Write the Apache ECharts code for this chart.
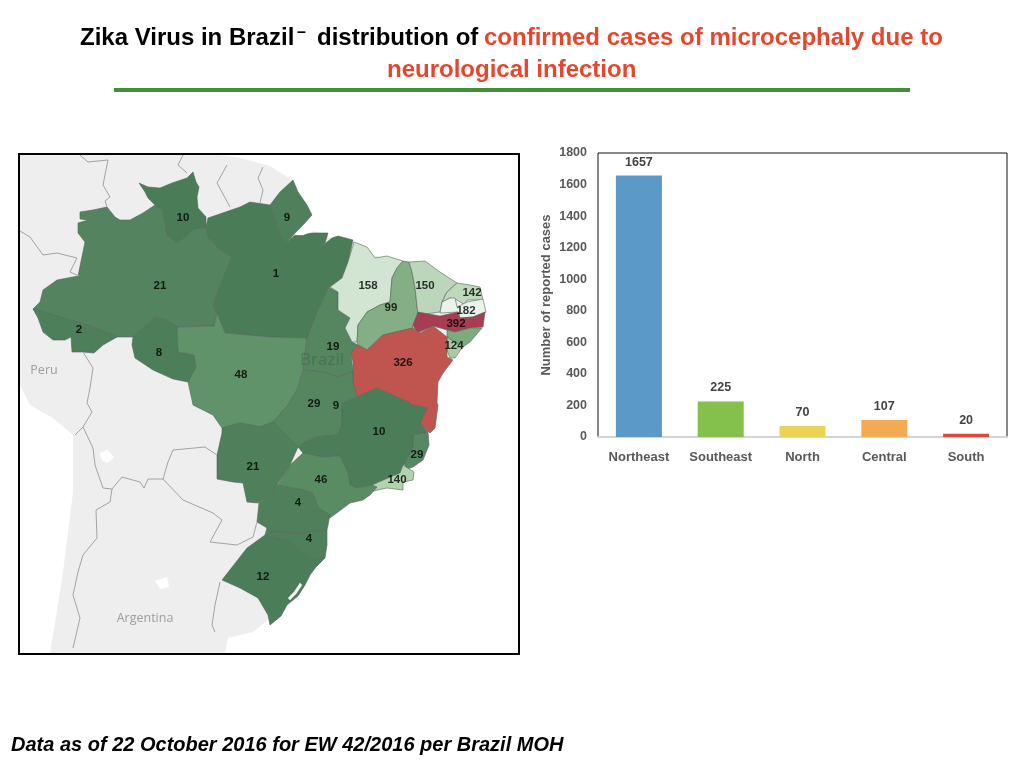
<!DOCTYPE html>
<html><head><meta charset="utf-8">
<style>html,body{margin:0;padding:0;background:#fff}#c{width:1024px;height:768px}</style>
<script src="https://cdn.jsdelivr.net/npm/echarts@6/dist/echarts.min.js"></script>
</head><body><div id="c"></div>
<script>
// Bar chart data
const regionNames = ['Northeast','Southeast','North','Central','South'];
const regionCases = [1657,225,70,107,20];
const regionColors = ['#5b9ac8','#83c04c','#ecd255','#f2ab54','#e0483a'];

// Map: outlines (map-space units)
const frameRing = [[20,155],[519,155],[519,654],[20,654]];
const landRing = [[20,155],[217,155],[237,157],[270,166],[292,180],[285,200],[300,225],[350,245],[400,265],[450,290],[470,320],[440,370],[430,420],[415,460],[370,490],[325,520],[315,555],[280,600],[270,618],[253,632],[228,638],[225,653],[50,653],[60,592],[63,572],[73,492],[73,435],[53,418],[30,405],[20,385]];
const stateNames = ['Amazonas','Acre','Rondonia','Roraima','Para','Amapa','Mato Grosso','Tocantins','Maranhao','Piaui','Ceara','Rio Grande do Norte','Paraiba','Pernambuco','Alagoas','Sergipe','Bahia','Goias','Minas Gerais','Espirito Santo','Rio de Janeiro','Mato Grosso do Sul','Sao Paulo','Parana','Santa Catarina','Rio Grande do Sul'];
const stateRings = [
 [[80,212],[93,210],[107,207],[115,217],[120,220],[130,220],[143,213],[155,205],[163,210],[167,235],[177,243],[187,235],[193,229],[206,227],[208,237],[217,247],[232,257],[213,305],[217,313],[214,326],[177,327],[167,320],[155,318],[147,325],[133,337],[117,337],[87,325],[33,309],[40,302],[43,290],[57,280],[78,276],[85,242],[78,233],[78,223],[88,220],[80,219]],
 [[33,309],[87,325],[117,337],[103,345],[94,353],[83,352],[72,352],[71,337],[65,340],[53,340],[43,332],[38,318]],
 [[133,337],[147,325],[155,318],[167,320],[177,327],[178,352],[194,355],[196,368],[188,382],[173,379],[153,370],[135,358],[132,345]],
 [[139,183],[148,187],[160,188],[172,183],[187,178],[193,172],[196,182],[199,187],[197,197],[198,208],[206,217],[206,227],[193,229],[187,235],[177,243],[167,235],[163,210],[155,205],[148,198],[145,192]],
 [[206,227],[208,218],[240,207],[250,202],[270,205],[280,235],[287,243],[295,235],[313,233],[328,233],[325,243],[317,250],[332,238],[338,236],[353,240],[348,262],[342,278],[330,287],[317,312],[307,338],[270,337],[225,333],[217,313],[213,305],[232,257],[217,247],[208,237]],
 [[270,205],[280,192],[293,180],[298,192],[307,205],[312,215],[303,225],[295,233],[287,243],[280,235]],
 [[177,327],[214,326],[217,313],[225,333],[270,337],[307,338],[303,368],[298,388],[288,405],[273,422],[260,427],[240,423],[222,428],[213,415],[193,405],[192,400],[188,382],[196,368],[194,355],[178,352]],
 [[330,288],[338,292],[338,310],[350,318],[345,328],[352,342],[358,345],[351,353],[353,372],[338,377],[323,372],[303,370],[307,338],[317,312]],
 [[354,242],[367,247],[375,258],[387,256],[403,261],[397,268],[392,278],[390,302],[380,305],[367,312],[358,325],[357,342],[352,342],[345,328],[350,318],[338,310],[338,292],[330,287],[342,278],[348,262]],
 [[403,261],[409,262],[412,272],[415,288],[418,315],[413,325],[413,328],[383,335],[367,350],[358,345],[357,342],[358,325],[367,312],[380,305],[390,302],[392,278],[397,268]],
 [[409,262],[425,261],[440,272],[457,283],[447,292],[442,302],[440,312],[418,315],[415,288],[412,272]],
 [[457,283],[470,285],[480,287],[483,300],[467,300],[465,305],[457,300],[450,298],[442,302],[447,292]],
 [[442,302],[450,298],[455,298],[457,307],[467,302],[483,299],[486,312],[473,317],[460,318],[458,312],[440,313]],
 [[418,312],[440,316],[458,312],[460,318],[473,317],[485,312],[483,327],[470,328],[455,332],[447,330],[433,326],[417,333],[413,325]],
 [[447,330],[455,332],[470,328],[482,328],[470,342],[463,347],[447,337]],
 [[447,337],[462,348],[455,358],[450,358],[447,350]],
 [[351,353],[358,345],[367,350],[383,335],[413,328],[420,333],[433,326],[447,337],[447,357],[453,360],[443,373],[438,382],[437,403],[438,405],[435,428],[430,433],[420,423],[427,408],[412,405],[410,403],[377,388],[357,397],[353,382],[353,362]],
 [[303,370],[323,372],[338,377],[353,372],[353,382],[357,397],[343,403],[342,408],[342,425],[337,435],[317,437],[303,443],[298,447],[273,422],[288,405],[298,388]],
 [[298,447],[303,443],[317,437],[337,435],[342,425],[342,408],[343,403],[357,397],[377,388],[410,403],[412,405],[427,408],[420,423],[428,432],[413,435],[413,448],[405,463],[400,473],[388,478],[372,485],[357,488],[350,485],[348,473],[340,456],[322,457],[303,453]],
 [[413,435],[428,432],[429,445],[423,460],[413,467],[405,470],[405,463],[413,448]],
 [[403,465],[414,472],[413,480],[403,482],[403,490],[387,488],[373,491],[372,485],[388,478],[400,473]],
 [[222,428],[240,423],[260,427],[273,422],[298,447],[290,465],[277,485],[270,495],[258,503],[247,502],[243,483],[233,482],[217,479],[217,455],[222,433]],
 [[278,485],[290,465],[303,453],[322,457],[340,456],[348,473],[350,485],[357,488],[372,485],[377,487],[370,495],[363,500],[350,503],[330,518],[318,508],[313,493],[303,490]],
 [[277,485],[303,490],[313,493],[318,508],[330,515],[327,530],[300,533],[270,532],[267,528],[257,522],[259,503],[270,495]],
 [[267,528],[270,532],[300,533],[327,530],[327,545],[325,558],[313,560],[290,542],[265,535]],
 [[222,580],[247,548],[265,535],[290,542],[313,560],[325,558],[316,567],[310,575],[305,585],[298,596],[287,605],[281,616],[270,625],[268,615],[258,598],[240,588]]
];
const stateColors = ['#53835f','#4e7f5b','#4d7e5a','#4b7c58','#4b7c58','#4f805b','#60936a','#55865f','#d2e5d2','#84ae83','#bbd6ba','#bfd9bc','#e9f3e9','#a63d52','#7cab7d','#a8cba5','#c0544f','#558660','#4c7d59','#568862','#b3d3ae','#507f5c','#5a8c63','#4f805b','#4f805b','#4c7d59'];
// white lakes and lagoons
const lakeRings = [
 [[288,598],[294,592],[300,583],[302,585],[296,594],[290,600]],
 [[295,235],[307,226],[316,230],[303,235]],
 [[100,453],[107,450],[114,457],[107,463],[102,460]],
 [[155,581],[167,577],[169,587],[160,589]]
];

// Value labels on the map
const mapCases = [10,9,21,1,158,150,142,99,182,392,2,124,19,8,326,48,29,9,10,29,21,46,140,4,4,12];
const mapLabelAt = [[183,218],[287,218],[160,286],[276,274],[368,286],[425,286],[472,293],[391,308],[466,311],[456,324],[79,330],[454,346],[333,347],[159,353],[403,363],[241,375],[314,404],[336,406],[379,432],[417,455],[253,467],[321,480],[397,480],[298,503],[309,539],[263,577]];
const placeNames = ['Peru','Argentina'];
const placeAt = [[44,370],[145,618]];

// Neighbouring country borders
const borderLines = [
 [[80,155],[88,162],[108,160],[103,185],[110,197],[105,201],[107,207]],
 [[183,155],[178,165],[187,173]],
 [[227,165],[217,183],[230,207]],
 [[263,167],[258,178],[263,190],[260,203]],
 [[20,231],[30,237],[43,255],[57,253],[77,258],[70,272],[79,276]],
 [[83,352],[93,368],[90,388],[87,403],[92,412],[83,427],[75,435]],
 [[83,427],[93,448],[95,465],[103,488],[112,489],[110,502],[96,510],[97,538],[83,555],[78,572],[73,595],[80,618],[73,648]],
 [[112,489],[122,477],[140,482],[144,488],[148,479],[163,479]],
 [[163,479],[168,462],[173,450],[205,447],[217,455]],
 [[163,479],[183,500],[213,513],[222,520],[210,542],[237,545],[253,537],[257,522]],
 [[220,582],[215,605],[212,625],[215,632]]
];

const features = [];
const regionStyles = [];
function addFeature(name, ring, style){
  features.push({type:'Feature',properties:{name},geometry:{type:'Polygon',coordinates:[ring.concat([ring[0]])]}});
  regionStyles.push({name,itemStyle:style,emphasis:{disabled:true}});
}
addFeature('Frame',frameRing,{areaColor:'#ffffff',borderWidth:0});
addFeature('Land',landRing,{areaColor:'#eeeeef',borderWidth:0});
stateNames.forEach((n,i)=>addFeature(n,stateRings[i],{areaColor:stateColors[i],borderColor:'rgba(85,100,90,0.75)',borderWidth:0.8}));
lakeRings.forEach((r,i)=>addFeature('Lake'+i,r,{areaColor:'#ffffff',borderColor:'#ffffff',borderWidth:0.3}));
echarts.registerMap('brazilPanel',{type:'FeatureCollection',features});

const chart = echarts.init(document.getElementById('c'),null,{renderer:'canvas'});
const titleFont = {fontFamily:'Liberation Sans',fontWeight:'bold',fontSize:24};
const grey = '#595959';
chart.setOption({
  animation:false,
  backgroundColor:'#ffffff',
  title:[
    {text:'Zika Virus in Brazil',left:80,top:26,padding:0,textStyle:{...titleFont,color:'#000'}},
    {text:'–',left:297,top:25,padding:0,textStyle:{...titleFont,fontSize:16,color:'#000'}},
    {text:'distribution of',left:317,top:26,padding:0,textStyle:{...titleFont,color:'#000'}},
    {text:'confirmed cases of microcephaly due to',left:484,top:26,padding:0,textStyle:{...titleFont,color:'#e5472d'}},
    {text:'neurological infection',left:387,top:58,padding:0,textStyle:{...titleFont,color:'#e5472d'}},
    {text:'Data as of 22 October 2016 for EW 42/2016 per Brazil MOH',left:11,top:735,padding:0,textStyle:{fontFamily:'Liberation Sans',fontWeight:'bold',fontStyle:'italic',fontSize:20,color:'#000'}}
  ],
  geo:{
    map:'brazilPanel',
    projection:{project:p=>p,unproject:p=>p},
    left:20,top:155,width:499,height:499,
    roam:false,silent:true,
    label:{show:false},
    emphasis:{disabled:true},
    itemStyle:{areaColor:'#eeeeef',borderWidth:0},
    regions:regionStyles
  },
  grid:{left:598,top:153,width:409,height:284,show:true,borderColor:'#111',borderWidth:1,backgroundColor:'transparent'},
  xAxis:{type:'category',data:regionNames,
    axisTick:{show:false},
    axisLine:{show:true,lineStyle:{color:'#d4d4d4',width:2}},
    axisLabel:{fontFamily:'Liberation Sans',fontWeight:'bold',fontSize:13,color:grey,margin:14},
    splitLine:{show:false}},
  yAxis:{type:'value',min:0,max:1800,interval:200,
    name:'Number of reported cases',nameLocation:'middle',nameGap:45,nameRotate:90,nameMoveOverlap:false,
    nameTextStyle:{fontFamily:'Liberation Sans',fontWeight:'bold',fontSize:13,color:grey},
    axisLine:{show:false},axisTick:{show:false},splitLine:{show:false},
    axisLabel:{fontFamily:'Liberation Sans',fontWeight:'bold',fontSize:12.5,color:grey,margin:11,formatter:v=>String(v)}},
  series:[
    {type:'bar',barWidth:46,silent:true,
     data:regionCases.map((v,i)=>({value:v,itemStyle:{color:regionColors[i]}})),
     label:{show:true,position:'top',distance:7,fontFamily:'Liberation Sans',fontWeight:'bold',fontSize:12.5,color:'#444'}},
    {type:'lines',coordinateSystem:'geo',geoIndex:0,polyline:true,silent:true,z:3,
     data:borderLines.map(c=>({coords:c})),
     lineStyle:{color:'#a3a3a3',width:1,opacity:1}},
    {type:'scatter',coordinateSystem:'geo',geoIndex:0,silent:true,z:5,symbolSize:1,itemStyle:{color:'transparent'},
     data:mapLabelAt.map((p,i)=>({value:[p[0],p[1],mapCases[i]]})),
     label:{show:true,position:'inside',formatter:o=>String(o.value[2]),fontFamily:'Liberation Sans',fontWeight:'bold',fontSize:11.5,color:'#000'}},
    {type:'scatter',coordinateSystem:'geo',geoIndex:0,silent:true,z:4,symbolSize:1,itemStyle:{color:'transparent'},
     data:placeAt.map((p,i)=>({value:[p[0],p[1]],name:placeNames[i]})),
     label:{show:true,position:'inside',formatter:'{b}',fontFamily:'Open Sans',fontSize:12.5,color:'#8a8a8a'}},
    {type:'scatter',coordinateSystem:'geo',geoIndex:0,silent:true,z:4,symbolSize:1,itemStyle:{color:'transparent'},
     data:[{value:[322,360],name:'Brazil'}],
     label:{show:true,position:'inside',formatter:'{b}',fontFamily:'Open Sans',fontSize:17,color:'rgba(50,80,60,0.45)'}}
  ],
  graphic:[
    {type:'line',shape:{x1:114,y1:90,x2:910,y2:90},style:{stroke:'#3f9134',lineWidth:4},silent:true},
    {type:'rect',shape:{x:19,y:154,width:500,height:500},style:{fill:'none',stroke:'#000',lineWidth:2},silent:true,z:10}
  ]
});
</script></body></html>
